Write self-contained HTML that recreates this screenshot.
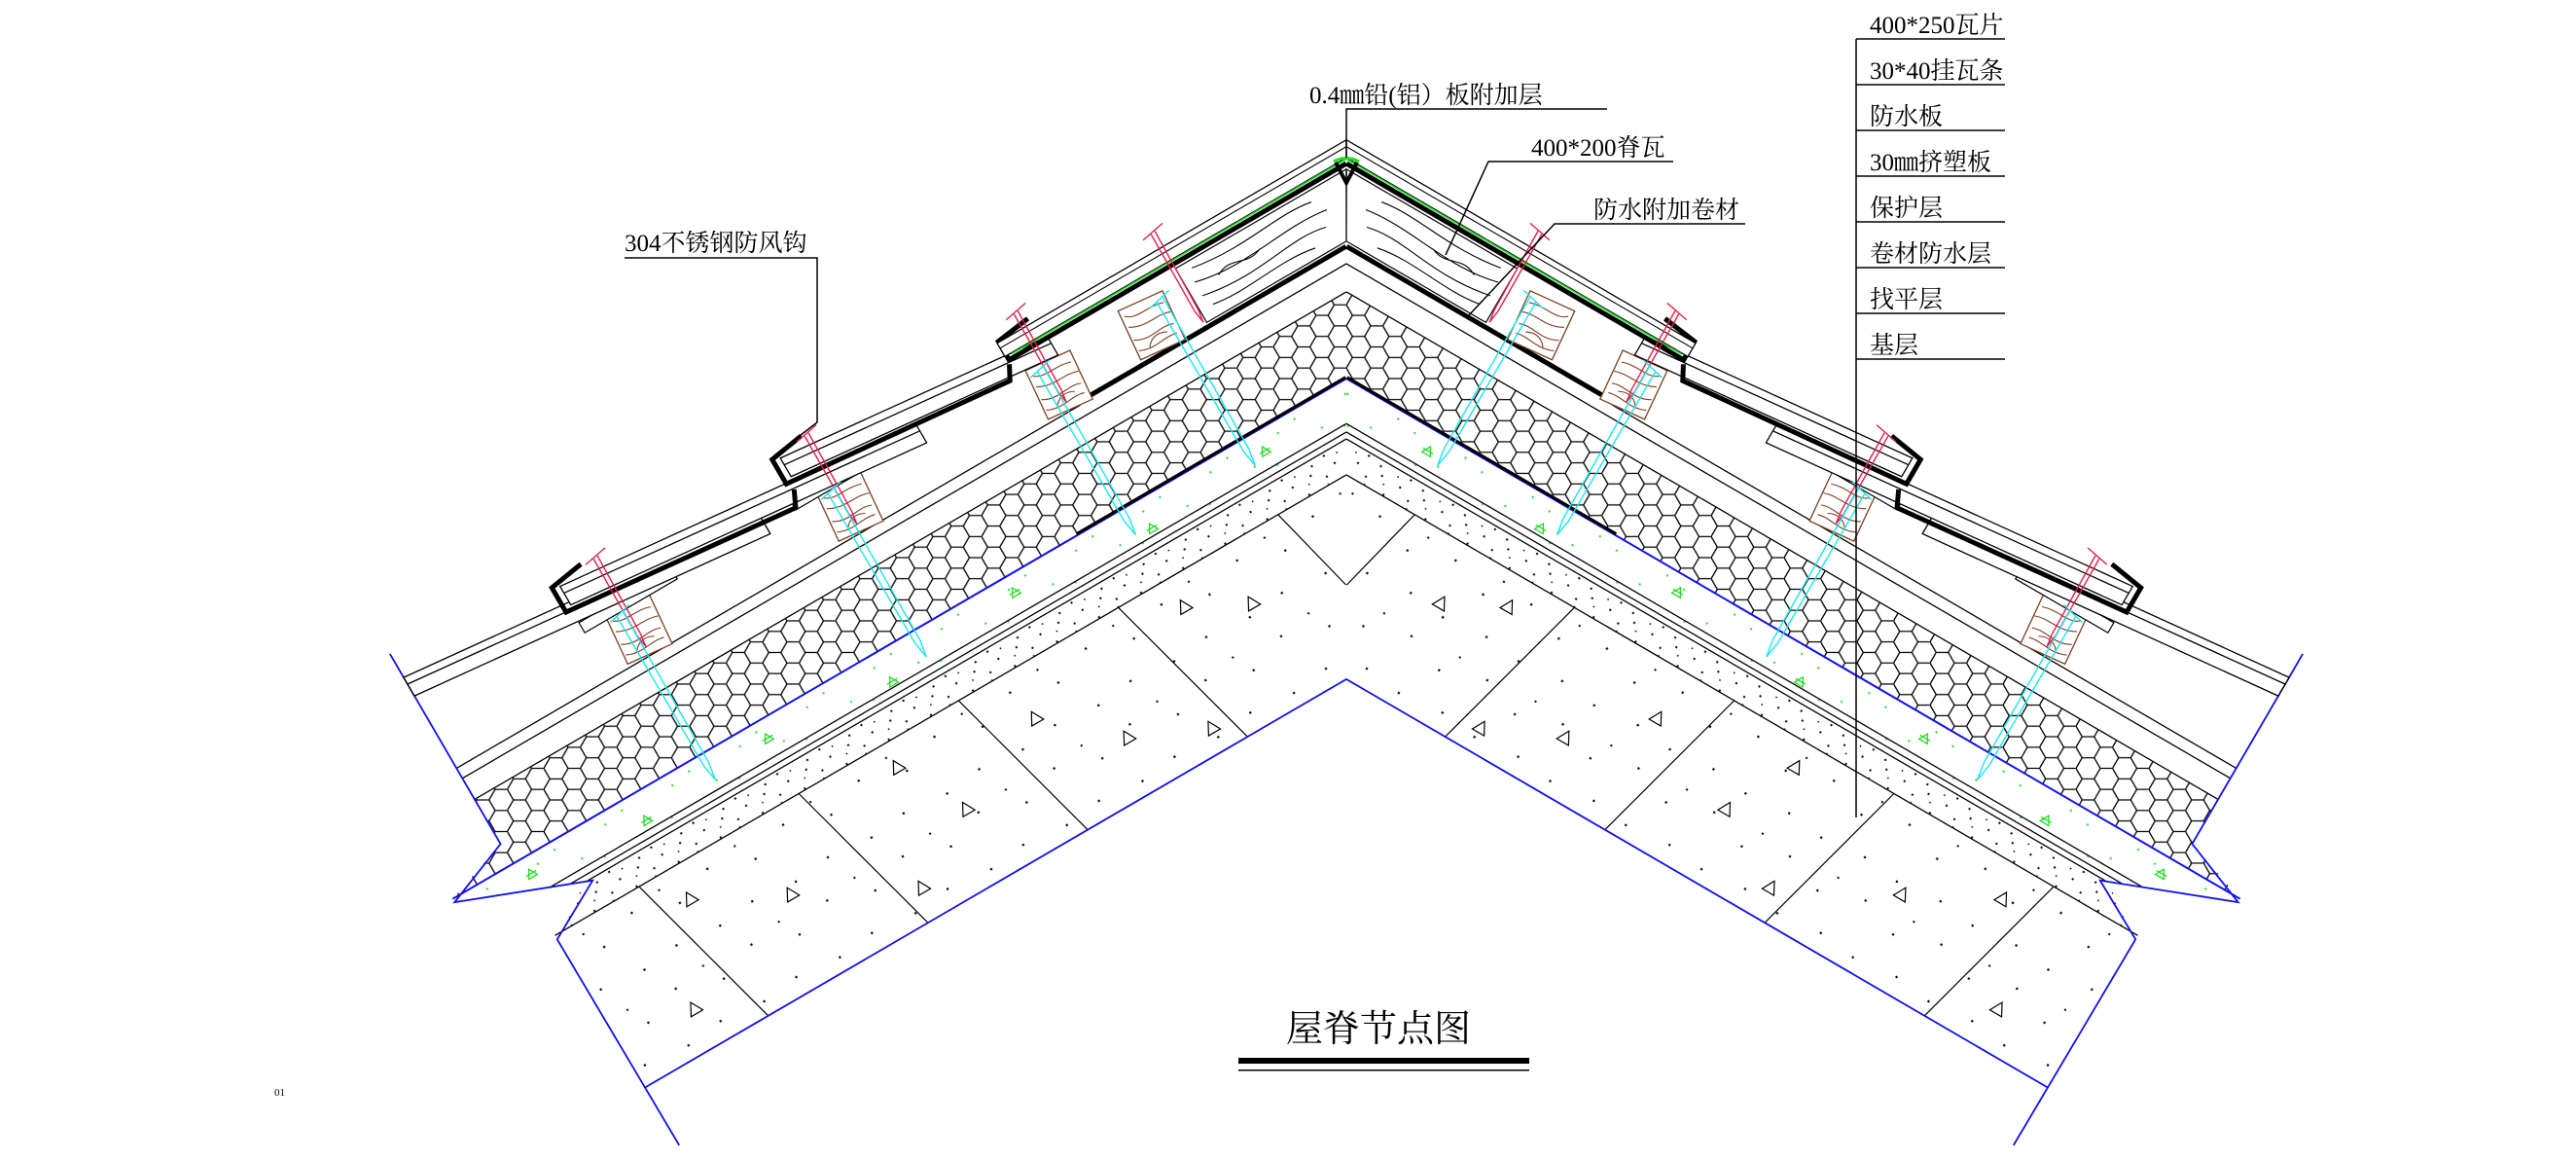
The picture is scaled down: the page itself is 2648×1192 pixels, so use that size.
<!DOCTYPE html>
<html><head><meta charset="utf-8"><style>
html,body{margin:0;padding:0;background:#fff;}
svg{display:block;}
text{font-family:"Liberation Serif","Noto Serif CJK SC",serif;fill:#000;}
</style></head><body>
<svg width="2648" height="1192" viewBox="0 0 2648 1192" xmlns="http://www.w3.org/2000/svg">
<defs>
<pattern id="hexL" patternUnits="userSpaceOnUse" width="37.5" height="21.65" patternTransform="matrix(-0.8643,0.503,0.503,0.8643,0,0)">
<path d="M0,10.825 L6.25,0 L18.75,0 L25,10.825 L18.75,21.65 L6.25,21.65 Z M25,10.825 L37.5,10.825" fill="none" stroke="#000" stroke-width="1.3"/></pattern>
<pattern id="hexR" patternUnits="userSpaceOnUse" width="37.5" height="21.65" patternTransform="rotate(-30.2)">
<path d="M0,10.825 L6.25,0 L18.75,0 L25,10.825 L18.75,21.65 L6.25,21.65 Z M25,10.825 L37.5,10.825" fill="none" stroke="#000" stroke-width="1.3"/></pattern>
<pattern id="ldots" patternUnits="userSpaceOnUse" width="50" height="32">
<rect x="3" y="4" width="2" height="2"/><rect x="17" y="12" width="2" height="2"/><rect x="31" y="3" width="2" height="2"/><rect x="42" y="19" width="2" height="2"/><rect x="9" y="24" width="2" height="2"/><rect x="25" y="27" width="2" height="2"/><rect x="37" y="10" width="1.5" height="1.5"/><rect x="46" y="28" width="1.5" height="1.5"/><rect x="20" y="20" width="1.5" height="1.5"/></pattern>
<pattern id="bdots" patternUnits="userSpaceOnUse" width="90" height="90">
<rect x="10" y="14" width="2.2" height="2.2"/><rect x="52" y="30" width="2.2" height="2.2"/><rect x="77" y="66" width="2.2" height="2.2"/><rect x="28" y="71" width="2.2" height="2.2"/><rect x="64" y="8" width="2" height="2"/></pattern>
<pattern id="gdots" patternUnits="userSpaceOnUse" width="80" height="50">
<rect x="8" y="12" width="2" height="2" fill="#22dd22"/><rect x="46" y="30" width="2" height="2" fill="#22dd22"/><rect x="66" y="8" width="2" height="2" fill="#22dd22"/><rect x="25" y="40" width="2" height="2" fill="#22dd22"/></pattern>
<g id="bat">
<polygon points="-27,-25 23,-30 28,25 -22,30" fill="#fff" stroke="#7b3f20" stroke-width="1.3"/>
<path d="M-22,-14 C-5,-20 10,-12 20,-22 M-24,-2 C-8,-8 4,0 22,-10 M-20,10 C-6,4 8,14 24,4 M-18,20 C-4,16 8,24 25,16 M-10,14 C0,8 10,12 14,20" fill="none" stroke="#7b3f20" stroke-width="1.1"/>
</g>
<g id="nail"><path d="M-12,-233 L14,-228 M-1,-230 L1,-138 L3,-124 L5,-138 L4,-229" fill="none" stroke="#e0204a" stroke-width="1.4"/></g>
<g id="cyan"><path d="M-8,-170 L18,-164 M1,-168 L3,12 L6,30 L9,12 L9,-166" fill="none" stroke="#18e6f0" stroke-width="1.4"/></g>
<g id="tri"><path d="M0,-7 L7,6 L-7,6 Z" fill="none" stroke="#000" stroke-width="1.2"/></g>
<g id="gtri"><path d="M0,-5 L5,4 L-5,4 Z M-6,0 L6,0" fill="none" stroke="#22dd22" stroke-width="1.3"/></g>

<g id="half">
<polygon points="0,0 1063,0 929,56 31,53.6" fill="url(#gdots)"/>
<polygon points="31,53.6 935,53.6 991,85.5 50,85.5" fill="url(#ldots)"/>
<polygon points="50,85.5 991,85.5 989,267 155,267" fill="url(#bdots)"/>
<g stroke="#000" stroke-width="1.2" fill="none">
<line x1="131" y1="85.5" x2="107" y2="183"/>
<line x1="321" y1="85.5" x2="273" y2="267"/>
<line x1="511" y1="85.5" x2="463" y2="267"/>
<line x1="701" y1="85.5" x2="653" y2="267"/>
<line x1="891" y1="85.5" x2="843" y2="267"/>
</g>
<use href="#tri" x="200" y="150"/><use href="#tri" x="262" y="118"/><use href="#tri" x="380" y="205"/><use href="#tri" x="452" y="140"/><use href="#tri" x="600" y="112"/><use href="#tri" x="640" y="232"/><use href="#tri" x="760" y="170"/><use href="#tri" x="852" y="122"/><use href="#tri" x="905" y="222"/><use href="#tri" x="560" y="185"/><use href="#tri" x="300" y="240"/>
<use href="#gtri" x="110" y="22"/><use href="#gtri" x="250" y="32"/><use href="#gtri" x="405" y="18"/><use href="#gtri" x="560" y="34"/><use href="#gtri" x="700" y="20"/><use href="#gtri" x="850" y="30"/><use href="#gtri" x="980" y="18"/>
<g stroke="#000" stroke-width="1.3" fill="none">
<line x1="-59.4" y1="-102" x2="992" y2="-102"/>
<line x1="250" y1="-114" x2="992" y2="-114"/>
<line x1="-44.8" y1="-77" x2="992" y2="-77"/>
<line x1="23.3" y1="40" x2="970" y2="40"/>
<line x1="27.6" y1="47.5" x2="950" y2="47.5"/>
<line x1="31.2" y1="53.6" x2="935" y2="53.6"/>
<line x1="49.8" y1="85.5" x2="991" y2="85.5"/>
</g>
<line x1="0" y1="0" x2="1063" y2="0" stroke="#1010ee" stroke-width="2"/>
<line x1="0" y1="-1.5" x2="320" y2="-1.5" stroke="#000" stroke-width="3"/>
<line x1="155" y1="267" x2="989" y2="267" stroke="#1010ee" stroke-width="1.8"/>
<polyline points="992,-250 992,-24 1063,4 929,56 991,90 989,336" fill="none" stroke="#1010ee" stroke-width="1.8"/>
<line x1="-68" y1="-117.5" x2="252" y2="-117.5" stroke="#000" stroke-width="5"/>
<polygon points="-108,-186 95,-186 95,-122 -71,-122" fill="#fff" stroke="#000" stroke-width="1.2"/>
<path d="M-60,-175 C-20,-182 20,-168 80,-178 M-70,-160 C-20,-168 30,-150 85,-164 M-60,-145 C-20,-155 20,-135 85,-148 M-40,-132 C0,-140 40,-128 80,-135 M10,-160 C30,-150 40,-170 60,-158" fill="none" stroke="#000" stroke-width="1.1"/>
<use href="#bat" x="758" y="-143"/><use href="#bat" x="507" y="-143"/><use href="#bat" x="258" y="-143"/><use href="#bat" x="145" y="-148"/>
<g fill="#fff" stroke="#000" stroke-width="1.2">
<polygon points="698,-180 808,-180 808,-168 698,-168"/>
<polygon points="447,-180 557,-180 557,-168 447,-168"/>
</g>
<g fill="#fff" stroke="#000" stroke-width="1.3">
<polygon points="992,-222 592,-182 592,-160 992,-200"/>
<line x1="992" y1="-214" x2="592" y2="-174"/>
<polygon points="806,-222 406,-182 406,-160 806,-200"/>
<line x1="806" y1="-214" x2="406" y2="-174"/>
<polygon points="544,-222 244,-192 244,-170 544,-200"/>
<line x1="544" y1="-214" x2="244" y2="-184"/>
</g>
<g fill="none" stroke="#000" stroke-width="5" stroke-linejoin="miter">
<polyline points="776,-231 814,-225 814,-196 556,-170 548,-187"/>
<polyline points="514,-231 552,-225 552,-196 300,-172 292,-187"/>
<polyline points="252,-218 290,-213 290,-191 -111,-191"/>
</g>
<polygon points="292,-212 -123.4,-212 -114.1,-196 292,-196" fill="#fff" stroke="#000" stroke-width="1.3"/>
<line x1="-120" y1="-206" x2="292" y2="-206" stroke="#000" stroke-width="1.1"/>
<line x1="-113" y1="-195" x2="285" y2="-195" stroke="#22dd22" stroke-width="1.6"/>
<use href="#nail" x="758" y="0"/><use href="#nail" x="507" y="0"/><use href="#nail" x="258" y="0"/><use href="#nail" x="95" y="0"/>
<use href="#cyan" x="762" y="0"/><use href="#cyan" x="511" y="0"/><use href="#cyan" x="262" y="0"/><use href="#cyan" x="120" y="0"/>
</g>
</defs>

<g transform="matrix(-0.8643,0.503,0.503,0.8643,1384,389)">
<polygon points="-44.8,-77 992,-77 992,-24 1063,0 0,0" fill="url(#hexL)"/>
<use href="#half"/>
</g>
<g transform="matrix(0.8643,0.503,-0.503,0.8643,1384,389)">
<polygon points="-44.8,-77 992,-77 992,-24 1063,0 0,0" fill="url(#hexR)"/>
<use href="#half"/>
</g>

<path d="M1373,167 L1384,188 L1395,167" fill="none" stroke="#000" stroke-width="4"/>
<path d="M1371,166 Q1384,159 1397,166" fill="none" stroke="#22dd22" stroke-width="3"/>

<g stroke="#000" stroke-width="1.5" fill="none">
<polyline points="1384,162 1384,112 1652,112"/>
<polyline points="1486,262 1530,166 1720,166"/>
<polyline points="1508,326 1598,230 1794,230"/>
<polyline points="642,265 840,265 840,434 796,468"/>
<line x1="1908" y1="40" x2="1908" y2="840"/>
<line x1="1908" y1="40" x2="2061" y2="40"/>
<line x1="1908" y1="87" x2="2061" y2="87"/>
<line x1="1908" y1="134" x2="2061" y2="134"/>
<line x1="1908" y1="181" x2="2061" y2="181"/>
<line x1="1908" y1="228" x2="2061" y2="228"/>
<line x1="1908" y1="275" x2="2061" y2="275"/>
<line x1="1908" y1="322" x2="2061" y2="322"/>
<line x1="1908" y1="369" x2="2061" y2="369"/>
</g>

<g font-size="25">
<text x="1346" y="106">0.4㎜铅(铝）板附加层</text>
<text x="1574" y="160">400*200脊瓦</text>
<text x="1638" y="224">防水附加卷材</text>
<text x="642" y="258">304不锈钢防风钩</text>
<text x="1922" y="34">400*250瓦片</text>
<text x="1922" y="81">30*40挂瓦条</text>
<text x="1922" y="128">防水板</text>
<text x="1922" y="175">30㎜挤塑板</text>
<text x="1922" y="222">保护层</text>
<text x="1922" y="269">卷材防水层</text>
<text x="1922" y="316">找平层</text>
<text x="1922" y="363">基层</text>
</g>
<text x="1322" y="1070" font-size="38">屋脊节点图</text>
<rect x="1273" y="1087" width="299" height="6" fill="#000"/>
<rect x="1273" y="1099" width="299" height="1.5" fill="#000"/>
<text x="282" y="1126" font-size="11">01</text>
</svg>
</body></html>
